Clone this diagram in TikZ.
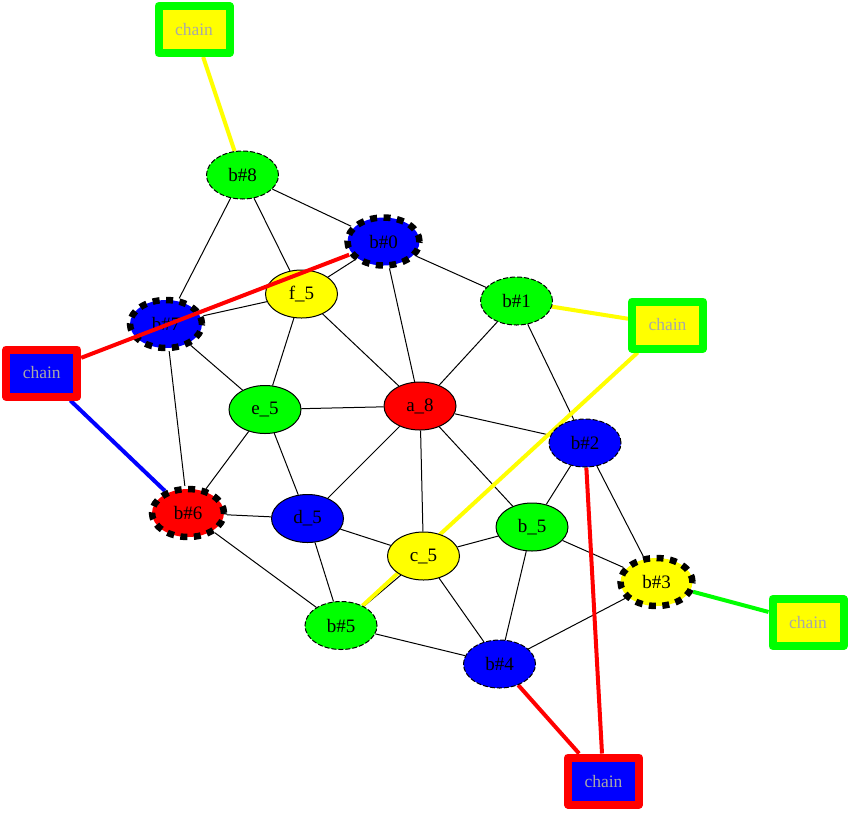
\documentclass[tikz,border=0pt]{standalone}
\usepackage{fontspec}
\setmainfont{Liberation Serif}
\usetikzlibrary{shapes.geometric}
\pgfdeclarelayer{bg}
\pgfdeclarelayer{fg}
\pgfsetlayers{bg,main,fg}
\definecolor{gG}{RGB}{0,255,0}
\definecolor{gB}{RGB}{0,0,255}
\definecolor{gR}{RGB}{255,0,0}
\definecolor{gY}{RGB}{255,255,0}
\definecolor{chaintxt}{RGB}{168,168,168}
\tikzset{
  vnode/.style={ellipse, minimum width=72pt, minimum height=48pt, inner sep=0pt,
    font=\fontsize{19}{20}\selectfont},
  solidv/.style={vnode, draw=black, line width=1pt},
  thinv/.style={vnode, draw=black, line width=1pt, dash pattern=on 5pt off 2pt},
  thickv/.style={vnode, draw=black, line width=6.5pt, dash pattern=on 7pt off 6.5pt},
  chainbox/.style={rectangle, minimum width=71pt, minimum height=47pt, inner sep=0pt,
    line width=8pt, line join=round, text=chaintxt,
    font=\fontsize{17.5}{20}\selectfont},
  edge/.style={draw=black, line width=1pt},
  cedge/.style={line width=4pt}
}
\begin{document}
\begin{tikzpicture}[x=1pt,y=-1pt]
\useasboundingbox (0,0) rectangle (850,812);
% vertices
\node[thinv, fill=gG] (b8) at (242.5,175) {b\#8};
\node[thickv, fill=gB] (b0) at (383.5,241.5) {b\#0};
\node[solidv, fill=gY] (f5) at (301.5,294) {f\_5};
\node[thickv, fill=gB] (b7) at (166,324) {b\#7};
\node[thinv, fill=gG] (b1) at (516.5,301) {b\#1};
\node[solidv, fill=gG] (e5) at (265,409.5) {e\_5};
\node[solidv, fill=gR] (a8) at (420,406) {a\_8};
\node[thinv, fill=gB] (b2) at (585,443) {b\#2};
\node[thickv, fill=gR] (b6) at (188,513) {b\#6};
\node[solidv, fill=gB] (d5) at (307.5,518.5) {d\_5};
\node[solidv, fill=gG] (b5) at (532,527) {b\_5};
\node[solidv, fill=gY] (c5) at (423.5,556) {c\_5};
\node[thickv, fill=gY] (b3) at (656.5,582) {b\#3};
\node[thinv, fill=gG] (bf5) at (341,625.5) {b\#5};
\node[thinv, fill=gB] (b4) at (499.5,664) {b\#4};
% chain boxes
\node[chainbox, draw=gG, fill=gY] (ct) at (194,29.5) {chain};
\node[chainbox, draw=gR, fill=gB] (cl) at (41.7,373) {chain};
\node[chainbox, draw=gG, fill=gY] (cr) at (667.5,325) {chain};
\node[chainbox, draw=gG, fill=gY] (cbr) at (808,622.5) {chain};
\node[chainbox, draw=gR, fill=gB] (cb) at (603.5,781) {chain};
\begin{pgfonlayer}{bg}
\path[edge] (b8) -- (b0);
\path[edge] (b8) -- (f5);
\path[edge] (b8) -- (b7);
\path[edge] (b0) -- (f5);
\path[edge] (b0) -- (b1);
\path[edge] (b0) -- (a8);
\path[edge] (f5) -- (b7);
\path[edge] (f5) -- (e5);
\path[edge] (f5) -- (a8);
\path[edge] (b7) -- (e5);
\path[edge] (b7) -- (b6);
\path[edge] (b1) -- (a8);
\path[edge] (b1) -- (b2);
\path[edge] (e5) -- (a8);
\path[edge] (e5) -- (b6);
\path[edge] (e5) -- (d5);
\path[edge] (a8) -- (b2);
\path[edge] (a8) -- (d5);
\path[edge] (a8) -- (c5);
\path[edge] (a8) -- (b5);
\path[edge] (b6) -- (d5);
\path[edge] (b6) -- (bf5);
\path[edge] (d5) -- (c5);
\path[edge] (d5) -- (bf5);
\path[edge] (b2) -- (b5);
\path[edge] (b2) -- (b3);
\path[edge] (b5) -- (c5);
\path[edge] (b5) -- (b3);
\path[edge] (b5) -- (b4);
\path[edge] (c5) -- (b4);
\path[edge] (c5) -- (bf5);
\path[edge] (bf5) -- (b4);
\path[edge] (b4) -- (b3);
% coloured chain links
\draw[cedge, gY] (ct) -- (b8);
\draw[cedge, gB] (cl) -- (b6);
\draw[cedge, gY] (cr) -- (b1);
\draw[cedge, gY] (cr) -- (bf5);
\draw[cedge, gG] (cbr) -- (b3);
\draw[cedge, gR] (cb) -- (b4);
\draw[cedge, gR] (cb) -- (b2);
\end{pgfonlayer}
\begin{pgfonlayer}{fg}
\draw[cedge, gR] (cl) -- (b0);
\end{pgfonlayer}
\end{tikzpicture}
\end{document}
